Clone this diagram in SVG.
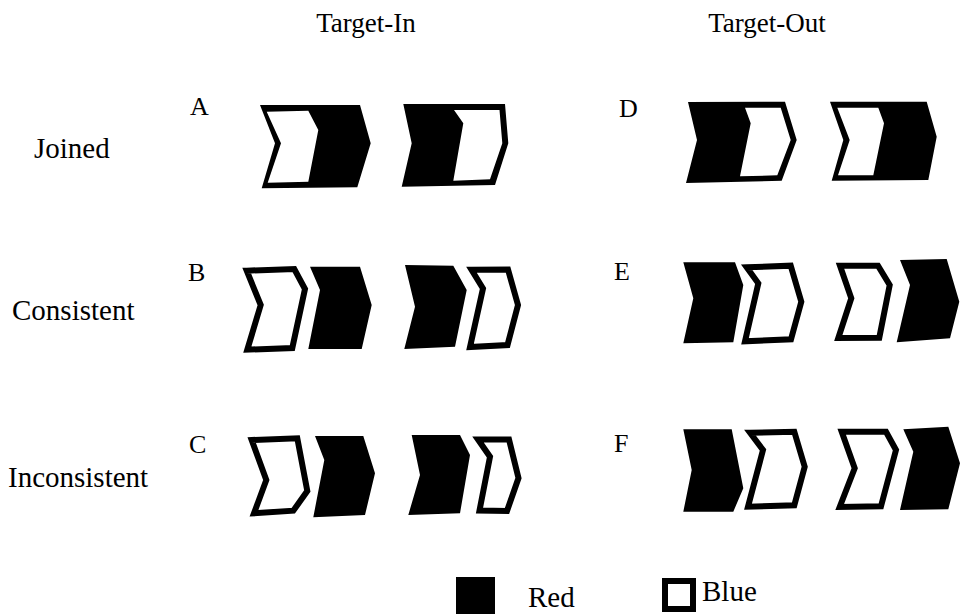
<svg xmlns="http://www.w3.org/2000/svg" width="960" height="614" viewBox="0 0 960 614">
  <style>
    text { font-family: "Liberation Serif", "Times New Roman", serif; fill: #000; }
    .head { font-size: 27px; text-anchor: middle; }
    .row { font-size: 29px; }
    .tag { font-size: 26px; }
    .leg { font-size: 29px; }
    .solid { fill: #000; stroke: none; }
    .hole { fill: #fff; stroke: none; }
    .open { fill: #fff; stroke: #000; stroke-width: 6; stroke-linejoin: miter; }
  </style>

  <!-- column headings -->
  <g id="headings">
    <text class="head" x="366" y="32">Target-In</text>
    <text class="head" x="767" y="32">Target-Out</text>
  </g>

  <!-- row labels -->
  <g id="row-labels">
    <text class="row" x="34" y="158">Joined</text>
    <text class="row" x="12" y="320">Consistent</text>
    <text class="row" x="8" y="487">Inconsistent</text>
  </g>

  <!-- panel letters -->
  <g id="panel-letters">
    <text class="tag" x="190" y="115">A</text>
    <text class="tag" x="188" y="281">B</text>
    <text class="tag" x="189" y="453">C</text>
    <text class="tag" x="619" y="117">D</text>
    <text class="tag" x="614" y="280">E</text>
    <text class="tag" x="614" y="452">F</text>
  </g>

  <!-- A: joined, target-in -->
  <g id="panel-A">
    <g id="A-left">
      <polygon class="solid" points="260,105 360,105 370.7,143.3 357.3,187.3 261.7,188.3 275,143.3"/>
      <polygon class="hole" points="266.7,111.7 308.3,110.7 318.3,130 308.3,181.7 267.7,182.7 281,143.3"/>
    </g>
    <g id="A-right">
      <polygon class="solid" points="403.3,104 505,104 508.3,143.3 495,185 401.7,186.7 411.7,143.3"/>
      <polygon class="hole" points="454,110 499.5,110 502.3,143.3 490,179.3 453.3,180.7 463.3,123.3"/>
    </g>
  </g>

  <!-- D: joined, target-out -->
  <g id="panel-D">
    <g id="D-left">
      <polygon class="solid" points="688,102 785,101.7 796.7,140 781.7,180.7 686,183 697,140"/>
      <polygon class="hole" points="745,107.7 780.7,107.7 790.7,140 777.3,175.3 740,176.3 750.7,123.3"/>
    </g>
    <g id="D-right">
      <polygon class="solid" points="830,101.7 926.7,101.7 936.7,136.7 928.3,180 831.7,180.7 843.3,140"/>
      <polygon class="hole" points="837.3,107.7 878.3,107.7 884,123.3 873.3,175.3 838,175.3 849.7,140"/>
    </g>
  </g>

  <!-- B: consistent, target-in -->
  <g id="panel-B">
    <polygon id="B-blue-1" class="open" points="246.7,270.7 294.3,269 305,289 292.3,348 247.3,349.7 260.7,305"/>
    <polygon id="B-red-1" class="solid" points="310,266.7 360,266.7 371.7,305 361.7,349 308.3,349 320,290"/>
    <polygon id="B-red-2" class="solid" points="405,265 453.3,265.7 466.7,290 455,346.7 404.3,349 415,306.7"/>
    <polygon id="B-blue-2" class="open" points="471.5,269.8 508,269.5 518,305 507.5,345 470,347 483,288.5"/>
  </g>

  <!-- E: consistent, target-out -->
  <g id="panel-E">
    <polygon id="E-red-1" class="solid" points="683.3,262.3 735,262.3 743.3,285 733.3,342.3 683.3,343.3 693.3,298.3"/>
    <polygon id="E-blue-1" class="open" points="746.7,267.3 790.7,265.7 801.3,301.7 791,339.3 745,341.3 758.3,283.3"/>
    <polygon id="E-blue-2" class="open" points="840,265.7 878,265.7 889.7,285 879.3,337.7 838.3,338 851.3,298.3"/>
    <polygon id="E-red-2" class="solid" points="900,260 946.7,259 959.3,301.7 950,338.3 896.7,342.3 910,285"/>
  </g>

  <!-- C: inconsistent, target-in -->
  <g id="panel-C">
    <polygon id="C-blue-1" class="open" points="251.7,440 297.3,438.3 307.3,491 293.3,510.7 254,513.3 266.3,480"/>
    <polygon id="C-red-1" class="solid" points="315,436 363.3,436 375,473.3 365,515 313.3,517.3 324.3,460"/>
    <polygon id="C-red-2" class="solid" points="411.7,435 460,435 470,455 460,513.3 408.3,515 420,475"/>
    <polygon id="C-blue-2" class="open" points="478,439.5 509,439.5 518.5,478 507,511 479.5,510.5 490,456.7"/>
  </g>

  <!-- F: inconsistent, target-out -->
  <g id="panel-F">
    <polygon id="F-red-1" class="solid" points="683.3,429.3 731.7,429.3 743.3,488.3 733.3,511.7 683.3,511.7 691.7,470"/>
    <polygon id="F-blue-1" class="open" points="750,432.7 794.3,431.7 804.7,466.7 794.3,505.3 748,506.7 763,450"/>
    <polygon id="F-blue-2" class="open" points="841.7,431.7 886,431.7 896,450 881,506.3 839.7,507 854.7,468.3"/>
    <polygon id="F-red-2" class="solid" points="903.3,429.3 948.3,426.7 960,463.3 948.3,509.3 900,510 913.3,451.7"/>
  </g>

  <!-- legend -->
  <g id="legend">
    <g id="legend-red">
      <rect class="solid" x="456" y="577" width="39" height="37"/>
      <text class="leg" x="528" y="607">Red</text>
    </g>
    <g id="legend-blue">
      <rect class="open" x="665" y="581" width="28" height="28" stroke-width="5"/>
      <text class="leg" x="702" y="601">Blue</text>
    </g>
  </g>
</svg>
